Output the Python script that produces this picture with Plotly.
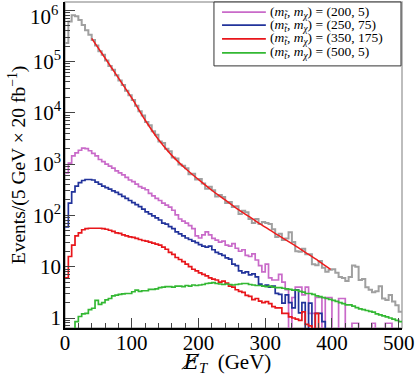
import numpy as np
import plotly.graph_objects as go

# ---------------- data (events per 5 GeV bin, 0-505 GeV) ----------------
bin_width = 5
bkg_events = [229000, 603000, 794000, 759000, 646000, 513000, 407000, 331000, 263000, 204000,
              158000, 135000, 105000, 81300, 69200, 53700, 42700, 34700, 26900, 21900,
              17800, 13800, 10700, 8910, 6610, 5750, 4370, 3720, 2750, 2570,
              2000, 1780, 1350, 1290, 977, 933, 832, 631, 646, 501,
              513, 417, 331, 363, 309, 234, 251, 229, 174, 182,
              145, 151, 107, 123, 115, 85.1, 70.8, 85.1, 67.6, 74.1,
              70.8, 67.6, 53.7, 38.0, 43.7, 33.1, 35.5, 46.8, 30.2, 20.0,
              19.5, 22.4, 17.4, 17.4, 11.2, 10.7, 12.9, 9.55, 7.94, 8.71,
              8.91, 7.59, 6.31, 6.03, 5.25, 6.31, 10.5, 10.0, 5.50, 5.75,
              3.98, 3.55, 3.16, 3.31, 4.17, 2.40, 2.24, 2.82, 2.09, 1.78,
              1.32]

sig_200_5 = [676, 1047, 1445, 1660, 1862, 2042, 1995, 1820, 1622, 1445,
             1230, 1122, 1000, 912, 832, 741, 676, 617, 550, 490,
             457, 407, 363, 339, 316, 269, 240, 214, 195, 174,
             158, 145, 126, 102, 85.1, 77.6, 70.8, 63.1, 55.0, 39.8,
             36.3, 41.7, 47.9, 41.7, 35.5, 33.1, 30.2, 31.6, 26.3, 25.1,
             28.2, 22.9, 20.0, 21.4, 16.6, 15.8, 17.8, 13.5, 10.5, 7.94,
             11.2, 6.03, 5.50, 5.50, 7.08, 5.01, 3.55, 0, 2.51, 3.98,
             3.98, 2.82, 3.98, 1.23, 1.23, 2.51, 2.51, 0, 2.51, 2.51,
             0, 0, 2.40, 2.40, 0, 0, 0.79, 0.79, 0, 0,
             0, 0, 0.79, 0, 0, 0, 0.79, 0.79, 0, 0,
             0]

sig_250_75 = [60, 174, 288, 372, 437, 479, 501, 501, 490, 447,
              407, 372, 347, 324, 302, 282, 257, 234, 214, 195,
              178, 162, 148, 132, 117, 107, 97.7, 89.1, 81.3, 70.8,
              67.6, 60.3, 55.0, 47.9, 43.7, 39.8, 36.3, 33.9, 31.6, 29.5,
              26.9, 25.1, 24.0, 25.1, 21.4, 19.1, 17.8, 16.6, 14.8, 14.1,
              11.2, 10.5, 8.32, 7.59, 7.94, 6.92, 7.24, 6.31, 4.57, 4.17,
              4.37, 3.98, 4.17, 3.02, 2.88, 1.95, 2.82, 2.00, 1.58, 3.55,
              1.26, 2.00, 0, 1.95, 0, 1.23, 1.23, 0.85, 0, 0,
              0, 0, 0, 0, 0, 0, 0, 0, 0, 0,
              0, 0, 0, 0, 0, 0, 0, 0, 0, 0,
              0]

sig_350_175 = [6.03, 15.8, 26.3, 39.8, 45.7, 52.5, 55.0, 56.2, 56.2, 56.2,
               56.2, 55.0, 53.7, 51.3, 49.0, 45.7, 44.7, 41.7, 39.8, 38.0,
               37.2, 35.5, 33.9, 32.4, 31.6, 30.2, 28.8, 27.5, 26.3, 24.0,
               21.9, 19.1, 17.4, 15.1, 13.8, 12.6, 11.2, 10.0, 8.91, 8.32,
               7.59, 7.08, 6.61, 6.03, 5.75, 5.50, 5.01, 5.25, 4.79, 4.17,
               3.98, 3.55, 3.31, 3.16, 2.75, 2.63, 2.29, 2.40, 2.14, 2.00,
               2.09, 1.91, 1.66, 1.58, 1.58, 1.23, 1.23, 1.05, 1.00, 0.95,
               0.90, 1.32, 0.75, 0.70, 0, 1.23, 0, 0, 0, 0,
               0, 0, 0, 0, 0, 0, 0, 0, 0, 0,
               0, 0, 0, 0, 0, 0, 0, 0, 0, 0,
               0]

sig_500_5 = [0, 0, 0, 0.85, 1.07, 1.2, 1.23, 1.45, 1.55, 2.2,
             1.85, 2.0, 2.25, 2.4, 2.7, 2.8, 2.9, 2.95, 3.0, 3.0,
             3.25, 3.5, 3.3, 3.4, 3.4, 3.6, 3.6, 3.7, 3.9, 4.0,
             4.1, 4.1, 4.0, 4.2, 4.2, 4.1, 4.3, 4.2, 4.4, 4.3,
             4.4, 4.5, 4.7, 4.8, 4.9, 4.7, 4.6, 4.5, 4.6, 4.5,
             4.4, 4.5, 4.6, 4.7, 4.7, 4.5, 4.4, 4.3, 4.3, 4.2,
             4.1, 4.2, 4.0, 3.9, 3.9, 3.8, 3.7, 3.6, 3.5, 3.5,
             3.3, 3.2, 3.0, 3.0, 2.9, 2.7, 2.6, 2.5, 2.4, 2.3,
             2.2, 2.1, 2.0, 1.9, 1.8, 1.8, 1.7, 1.6, 1.5, 1.45,
             1.4, 1.35, 1.3, 1.2, 1.15, 1.1, 1.05, 1.0, 0.95, 0.9,
             0.85]

# fit to the background tail
fit_x = [40, 60, 80, 100, 120, 140, 160, 180, 200, 220, 240, 260, 280, 300, 320, 340, 360, 380, 398]
fit_y = [282000, 117000, 47900, 19500, 7240, 3020, 1480, 832, 501, 309, 200, 129, 87.1, 58.9, 40.7, 28.2, 19.1, 12.9, 8.9]

legend_names = ["(<i>m</i><sub><i>t̃</i></sub>, <i>m</i><sub><i>χ</i></sub>) = (200, 5)",
                "(<i>m</i><sub><i>t̃</i></sub>, <i>m</i><sub><i>χ</i></sub>) = (250, 75)",
                "(<i>m</i><sub><i>t̃</i></sub>, <i>m</i><sub><i>χ</i></sub>) = (350, 175)",
                "(<i>m</i><sub><i>t̃</i></sub>, <i>m</i><sub><i>χ</i></sub>) = (500, 5)"]
y_tick_vals = [1, 10, 100, 1000, 10000, 100000, 1000000]
y_tick_text = ["1", "10", "10<sup>2</sup>", "10<sup>3</sup>", "10<sup>4</sup>", "10<sup>5</sup>", ""]
top_tick_label = "10<sup>6</sup>"
x_tick_vals = [0, 100, 200, 300, 400, 500]
x_title = "<span style='font-family:DejaVu Serif'><i>E\u0338</i></span><sub><i>T</i></sub>\u00a0\u00a0(GeV)"
y_title = "Events/(5 GeV × 20 fb<sup>−1</sup>)"

# ---------------- figure ----------------
FLOOR = 0.3  # empty bins drawn below the visible range
edges = np.arange(0, len(bkg_events) * bin_width + 1, bin_width)


def stairs(vals):
    v = [x if x > 0 else FLOOR for x in vals]
    return v + [v[-1]]


SERIF = "Liberation Serif"
TICK_SIZE = 21
fig = go.Figure()
fig.add_trace(go.Scatter(x=edges, y=stairs(bkg_events), mode="lines", showlegend=False,
                         line=dict(color="#a0a0a0", width=2, shape="hv")))

colors = ["#c96ac9", "#22339b", "#e8161b", "#33b833"]
for vals, name, col in zip([sig_200_5, sig_250_75, sig_350_175, sig_500_5], legend_names, colors):
    fig.add_trace(go.Scatter(x=edges, y=stairs(vals), mode="lines", name=name, showlegend=False,
                             line=dict(color=col, width=1.7, shape="hv")))

fig.add_trace(go.Scatter(x=fit_x, y=fit_y, mode="lines", showlegend=False,
                         line=dict(color="#ee1c1c", width=1.5, shape="spline")))

# legend box drawn in paper coordinates
LEG_X0, LEG_X1, LEG_Y0, LEG_Y1 = 0.442, 0.997, 0.804, 1.0
row_y = [0.969, 0.929, 0.887, 0.844]
shapes = [dict(type="rect", xref="paper", yref="paper", x0=0, y0=0, x1=1, y1=1,
               line=dict(color="#a8a8a8", width=1.5), layer="below"),
          dict(type="rect", xref="paper", yref="paper", x0=LEG_X0, y0=LEG_Y0, x1=LEG_X1, y1=LEG_Y1,
               line=dict(color="#333333", width=1), fillcolor="white", layer="above")]
annotations = []
for name, col, ry in zip(legend_names, colors, row_y):
    shapes.append(dict(type="line", xref="paper", yref="paper", x0=0.466, x1=0.596, y0=ry, y1=ry,
                       line=dict(color=col, width=1.7), layer="above"))
    annotations.append(dict(xref="paper", yref="paper", x=0.602, y=ry, xanchor="left", yanchor="middle",
                            text=name, showarrow=False, font=dict(family=SERIF, size=13.5, color="black")))
# top decade label sits a little below its tick, as in the original
annotations.append(dict(xref="paper", yref="paper", x=0, y=0.958, xanchor="right", yanchor="middle",
                        xshift=-5, text=top_tick_label, showarrow=False,
                        font=dict(family=SERIF, size=TICK_SIZE, color="black")))
# x-axis title placed a little lower than plotly's margin-constrained default
annotations.append(dict(xref="paper", yref="paper", x=0.479, y=-0.106, xanchor="center", yanchor="middle",
                        text=x_title, showarrow=False, font=dict(family=SERIF, size=21, color="black")))

minor_y = [m * 10 ** d for d in range(-1, 7) for m in range(2, 10)]

fig.update_layout(
    width=415, height=377,
    margin=dict(l=65, r=13, t=2, b=49),
    paper_bgcolor="white", plot_bgcolor="white",
    font=dict(family=SERIF, color="black", size=19),
    showlegend=False,
    shapes=shapes, annotations=annotations,
)
fig.update_xaxes(range=[0, 505], showline=True, linecolor="black", linewidth=1.5,
                 ticks="inside", ticklen=10, tickwidth=1, tickcolor="#444",
                 tickvals=x_tick_vals, showgrid=False, zeroline=False, ticklabelstandoff=-5,
                 minor=dict(ticks="inside", ticklen=5, tickwidth=1, tickcolor="#444", dtick=20, showgrid=False),
                 tickfont=dict(size=TICK_SIZE))
fig.update_yaxes(type="log", range=[-0.195, 6.16], showline=True, linecolor="black", linewidth=1.5,
                 ticks="inside", ticklen=10, tickwidth=1, tickcolor="#444",
                 tickvals=y_tick_vals, ticktext=y_tick_text, showgrid=False, zeroline=False,
                 ticklabelstandoff=-2,
                 minor=dict(ticks="inside", ticklen=5, tickwidth=1, tickcolor="#444",
                            tickvals=minor_y, showgrid=False),
                 title=dict(text=y_title, font=dict(size=19.5), standoff=2),
                 tickfont=dict(size=TICK_SIZE))

fig.write_html("out.html", config={"displayModeBar": False},
               post_script="document.body.style.margin='0';")
